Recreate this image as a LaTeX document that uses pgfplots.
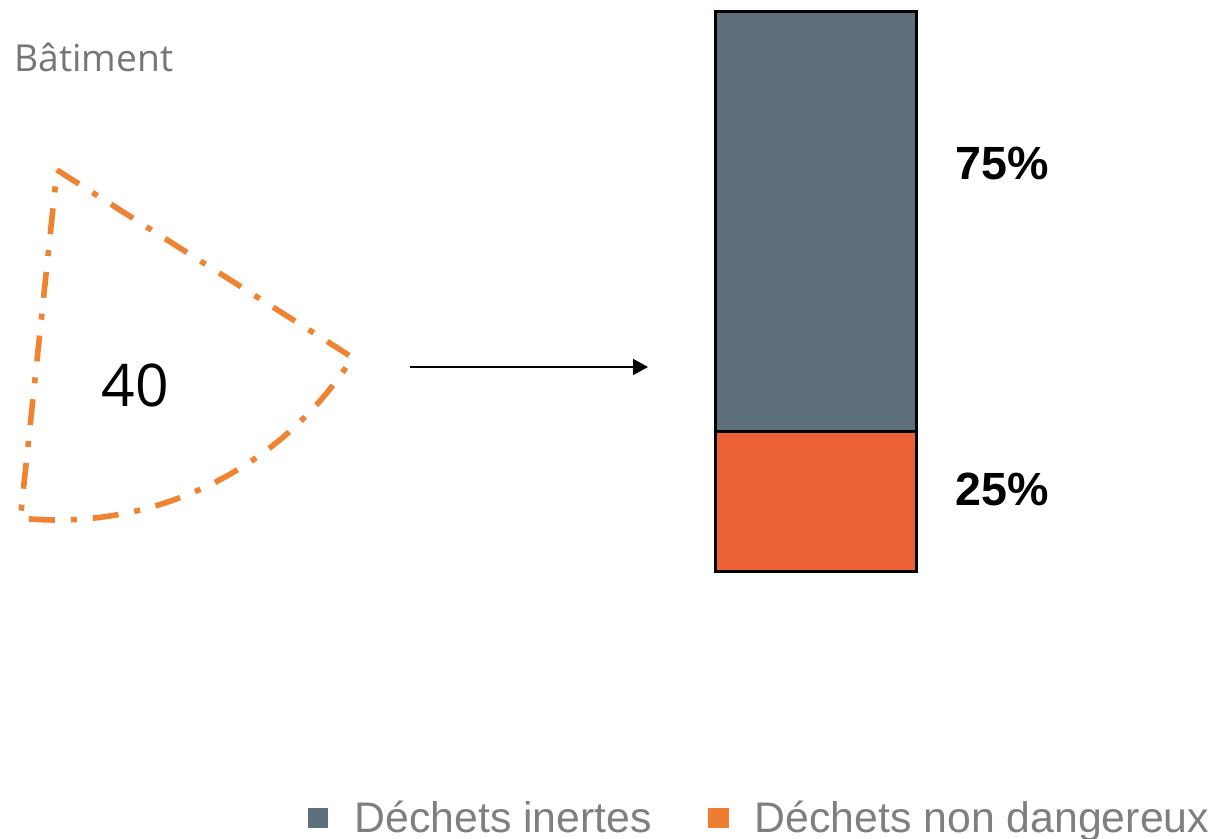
\documentclass[border=0pt]{standalone}
\usepackage{pgfplots}
\pgfplotsset{compat=1.18}
\usepackage{fontspec}
\setmainfont{Open Sans}
\newfontfamily\helv{Liberation Sans}
\usetikzlibrary{arrows.meta}
\definecolor{inerte}{HTML}{5D6F7A}
\definecolor{nondang}{HTML}{EB6236}
\definecolor{legorange}{HTML}{EE7D31}
\definecolor{sectorc}{HTML}{F08332}
\definecolor{txtgrey}{HTML}{7F7F7F}
\definecolor{titlegrey}{HTML}{767676}

\begin{document}
\begin{tikzpicture}
\path[use as bounding box] (0,0) rectangle (610.5pt,-419.5pt);
\begin{scope}[x=0.5pt,y=-0.5pt]
  \node[anchor=base west, inner sep=0, text=titlegrey, font=\fontsize{18.6pt}{20pt}\selectfont] at (14,72) {Bâtiment};
  \draw[sectorc, line width=2.8pt, dash pattern=on 13pt off 8pt on 3pt off 8pt]
    (57,170) -- ++(32.4:350) arc[start angle=32.4, end angle=96, radius=350] -- cycle;
  \node[inner sep=0, font=\fontsize{29.4pt}{32pt}\selectfont] at (135,385) {40};
  \draw[line width=1pt, -{Triangle[length=7.5pt,width=8pt]}] (410,367) -- (648,367);
  \node[anchor=base west, inner sep=0, font=\helv\bfseries\fontsize{23.3pt}{25pt}\selectfont] at (955,180) {75\%};
  \node[anchor=base west, inner sep=0, font=\helv\bfseries\fontsize{23.3pt}{25pt}\selectfont] at (955,506) {25\%};
\end{scope}
\begin{axis}[
  at={(358pt,-285.5pt)}, anchor=south west,
  scale only axis, width=100.5pt, height=279.5pt,
  xmin=-0.5, xmax=0.5, ymin=0, ymax=100,
  hide axis, clip=false,
  ybar stacked, bar width=100.5pt,
  legend columns=2,
  legend image code/.code={\path[#1] (0pt,-5.2pt) rectangle (10.4pt,5.2pt);},
  legend style={draw=none, fill=none, at={(0.221,-0.442)}, anchor=center,
    font=\helv\fontsize{21.4pt}{24pt}\selectfont, text=txtgrey,
    /tikz/every odd column/.append style={column sep=11pt},
    /tikz/every even column/.append style={column sep=26pt}},
]
\addplot[fill=nondang, draw=black, line width=1.5pt, forget plot] coordinates {(0,25)};
\addplot[fill=inerte, draw=black, line width=1.5pt, forget plot] coordinates {(0,75)};
\addlegendimage{fill=inerte, draw=none}
\addlegendentry{Déchets inertes}
\addlegendimage{fill=legorange, draw=none}
\addlegendentry{Déchets non dangereux}
\end{axis}
\end{tikzpicture}
\end{document}
